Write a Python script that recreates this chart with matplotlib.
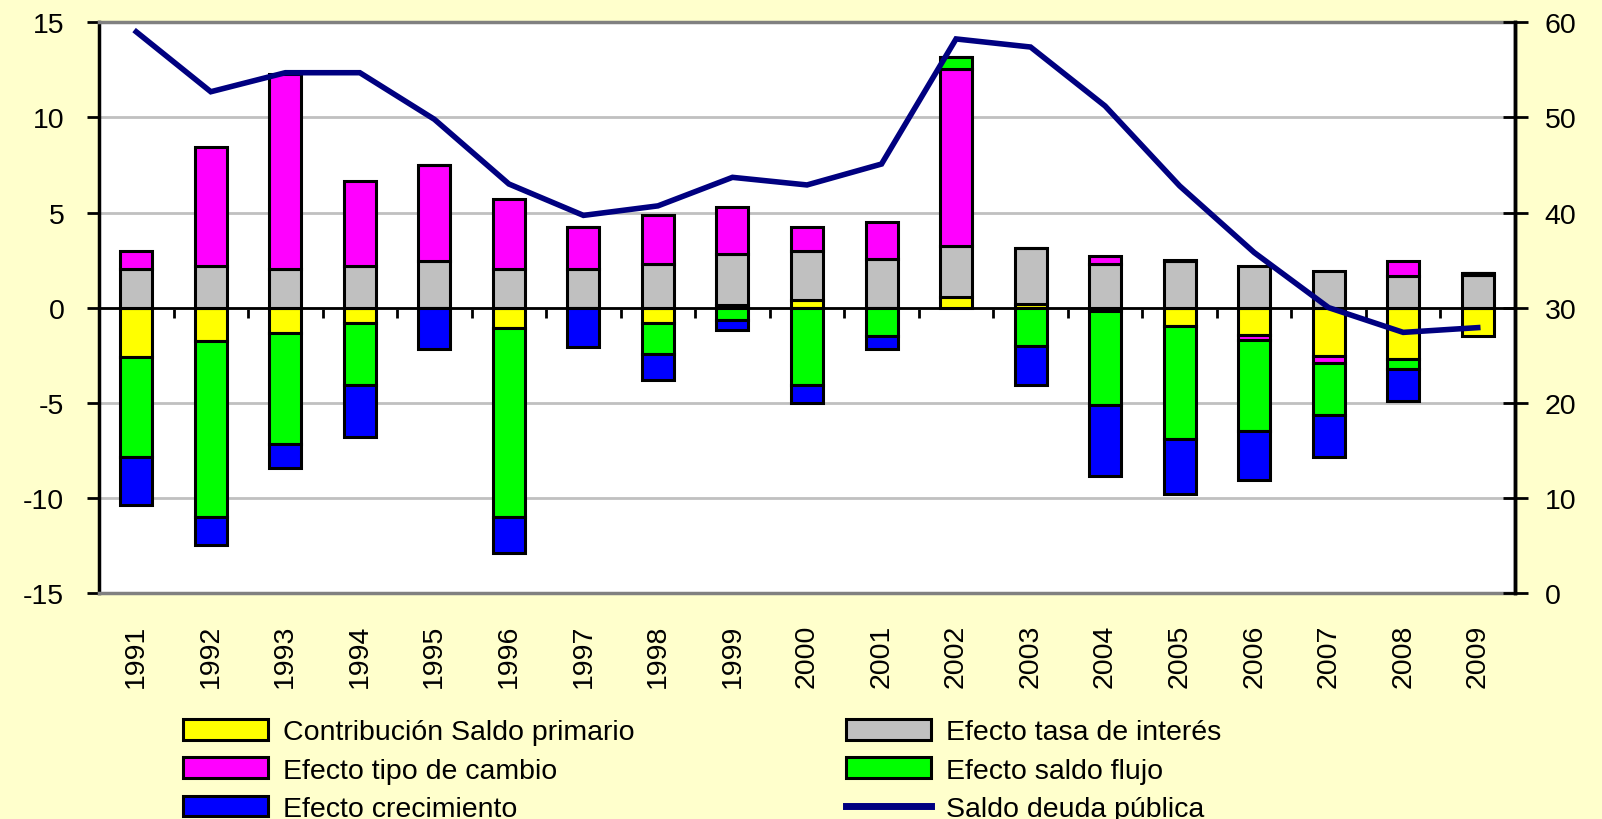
import numpy as np
import matplotlib
matplotlib.use("Agg")
import matplotlib.pyplot as plt
from matplotlib.patches import Patch
from matplotlib.lines import Line2D

plt.rcParams['font.family'] = ['Liberation Sans', 'DejaVu Sans']
plt.rcParams['axes.unicode_minus'] = False

# Data
years = [str(y) for y in range(1991, 2010)]
saldo_primario = [-2.6, -1.75, -1.35, -0.8, 0, -1.08, 0, -0.8, 0.15, 0.4,
                  0, 0.58, 0.2, -0.15, -0.94, -1.43, -2.55, -2.71, -1.49]
tasa_interes = [2.05, 2.2, 2.02, 2.2, 2.46, 2.02, 2.02, 2.28, 2.69, 2.58,
                2.58, 2.68, 2.95, 2.28, 2.45, 2.2, 1.92, 1.65, 1.72]
tipo_cambio = [0.95, 6.26, 10.25, 4.48, 5.06, 3.7, 2.2, 2.6, 2.45, 1.24,
               1.92, 9.27, 0, 0.46, 0.08, -0.28, -0.37, 0.81, 0.08]
saldo_flujo = [-5.25, -9.23, -5.8, -3.25, 0, -9.9, 0, -1.65, -0.65, -4.05,
               -1.47, 0.66, -2.0, -4.98, -5.96, -4.78, -2.72, -0.5, 0]
crecimiento = [-2.5, -1.5, -1.27, -2.75, -2.15, -1.92, -2.05, -1.35, -0.55, -0.98,
               -0.68, 0, -2.08, -3.7, -2.87, -2.59, -2.23, -1.68, 0]
deuda = [59.0, 52.7, 54.7, 54.7, 49.8, 43.0, 39.7, 40.7, 43.7, 42.9,
         45.1, 58.25, 57.4, 51.2, 42.8, 35.8, 30.0, 27.4, 27.9]

series = [
    ("Contribución Saldo primario", saldo_primario, "#FFFF00"),
    ("Efecto tasa de interés", tasa_interes, "#C0C0C0"),
    ("Efecto tipo de cambio", tipo_cambio, "#FF00FF"),
    ("Efecto saldo flujo", saldo_flujo, "#00FF00"),
    ("Efecto crecimiento", crecimiento, "#0000FF"),
]

fs = 20.5
bg = "#FFFFCC"

fig = plt.figure(figsize=(16.02, 8.2), dpi=100, facecolor=bg)
ax = fig.add_axes([99 / 1602, 1 - 594 / 820, (1515 - 99) / 1602, (594 - 23.3) / 820])
ax.set_facecolor("white")

x = np.arange(len(years))
pos = np.zeros(len(years))
neg = np.zeros(len(years))
for name, vals, col in series:
    v = np.array(vals, dtype=float)
    base = np.where(v >= 0, pos, neg)
    ax.bar(x, v, width=0.43, bottom=base, color=col, edgecolor="black",
           linewidth=2.2, zorder=3)
    pos = pos + np.where(v > 0, v, 0)
    neg = neg + np.where(v < 0, v, 0)

ax.set_xlim(-0.5, len(years) - 0.5)
ax.set_ylim(-15, 15)
ax.set_yticks(range(-15, 16, 5))
ax.tick_params(axis='y', labelsize=fs, length=9, width=2, pad=16, color="black")
ax.set_xticks(x)
ax.set_xticklabels(years, rotation=90, fontsize=fs)
ax.tick_params(axis='x', length=0, pad=22)
ax.grid(axis='y', color="#C0C0C0", linewidth=2, zorder=0)
ax.axhline(0, color="black", linewidth=2, zorder=2)

for s in ['top', 'bottom']:
    ax.spines[s].set_color("#808080")
    ax.spines[s].set_linewidth(2.5)
ax.spines['left'].set_linewidth(2.5)
ax.spines['right'].set_linewidth(2.5)

# category tick marks on the zero line
sec = ax.secondary_xaxis(0.5)
sec.set_xticks(np.arange(0.5, len(years) - 1, 1.0))
sec.set_xticklabels([])
sec.tick_params(axis='x', length=7.5, width=2, direction='in',
                labeltop=False, labelbottom=False)
for s in sec.spines.values():
    s.set_visible(False)

ax2 = ax.twinx()
ax2.plot(x, deuda, color="#000080", linewidth=4, zorder=5,
         solid_joinstyle='miter')
ax2.set_ylim(0, 60)
ax2.set_yticks(range(0, 61, 10))
ax2.tick_params(axis='y', labelsize=fs, length=18, width=2,
                direction='inout', color="black")
ax2.tick_params(axis='y', pad=12.5)
for s in ['top', 'bottom', 'left']:
    ax2.spines[s].set_visible(False)
ax2.spines['right'].set_linewidth(2.5)

# legends
h = [Patch(facecolor=c, edgecolor="black", linewidth=2.2, label=n) for n, _, c in series]
h.append(Line2D([0], [0], color="#000080", linewidth=5, label="Saldo deuda pública"))
leg_kw = dict(frameon=False, fontsize=fs, handlelength=3.0, handleheight=0.75,
              handletextpad=0.5, labelspacing=0.42, borderpad=0, borderaxespad=0,
              loc='upper left')
fig.legend(handles=[h[0], h[2], h[4]], bbox_to_anchor=(183 / 1602, 1 - 720 / 820), **leg_kw)
fig.legend(handles=[h[1], h[3], h[5]], bbox_to_anchor=(846 / 1602, 1 - 720 / 820), **leg_kw)

fig.savefig("out.png", dpi=100, facecolor=bg)
